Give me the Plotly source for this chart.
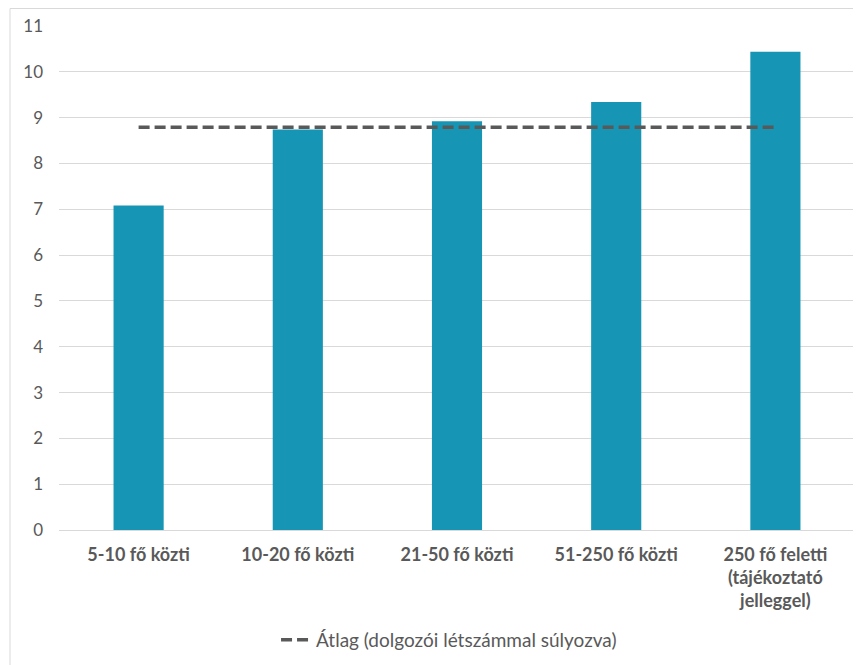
import plotly.graph_objects as go

categories = ["5-10 fő közti", "10-20 fő közti", "21-50 fő közti", "51-250 fő közti",
              "250 fő feletti<br>(tájékoztató<br>jelleggel)"]
values = [7.08, 8.74, 8.92, 9.34, 10.44]
average = [8.79, 8.79, 8.79, 8.79, 8.79]
y_ticks = list(range(0, 12))
avg_name = "Átlag (dolgozói létszámmal súlyozva)"

FONT = "Lato, 'Open Sans', sans-serif"
GRAY = "#595959"

fig = go.Figure()
fig.add_trace(go.Bar(
    x=categories, y=values, marker=dict(color="#1795B5", line=dict(width=0)),
    showlegend=False, name="",
))
fig.add_trace(go.Scatter(
    x=categories, y=average, mode="lines", name=avg_name,
    line=dict(color=GRAY, width=3.5, dash="11px,5px"),
))

# page body has an 8px margin, so the figure is drawn 8px smaller and offsets compensated
W, H = 853, 657
L, R, T, B = 51, 6, 18, 135
pw = W - L - R
ph = H - T - B

fig.update_layout(
    width=W, height=H,
    margin=dict(l=L, r=R, t=T, b=B),
    paper_bgcolor="white", plot_bgcolor="white",
    bargap=0.685,
    font=dict(family=FONT, color=GRAY, size=15),
    xaxis=dict(
        showgrid=False, showline=True, linecolor="#D9D9D9", linewidth=1,
        ticks="", tickfont=dict(family=FONT, size=18, color=GRAY, weight="bold"),
        ticklabelstandoff=8, fixedrange=True,
    ),
    yaxis=dict(
        range=[0, 11], tickvals=y_ticks, showgrid=True, gridcolor="#D9D9D9",
        gridwidth=1, zeroline=False, showline=False, ticks="",
        tickfont=dict(family=FONT, size=17, color=GRAY), ticklabelstandoff=15,
        fixedrange=True,
    ),
    legend=dict(
        orientation="h", x=0.49, xanchor="center", y=(522 - 632) / ph, yanchor="middle",
        font=dict(family=FONT, size=19, color=GRAY), bgcolor="rgba(0,0,0,0)",
        itemwidth=30,
    ),
    shapes=[dict(
        type="rect", xref="paper", yref="paper",
        x0=(2 - L) / pw, x1=1.02, y0=-0.3, y1=(T - 0.5) / ph + 1,
        line=dict(color="#D9D9D9", width=1), fillcolor="rgba(0,0,0,0)", layer="below",
    )],
)

fig.write_html("out.html")
